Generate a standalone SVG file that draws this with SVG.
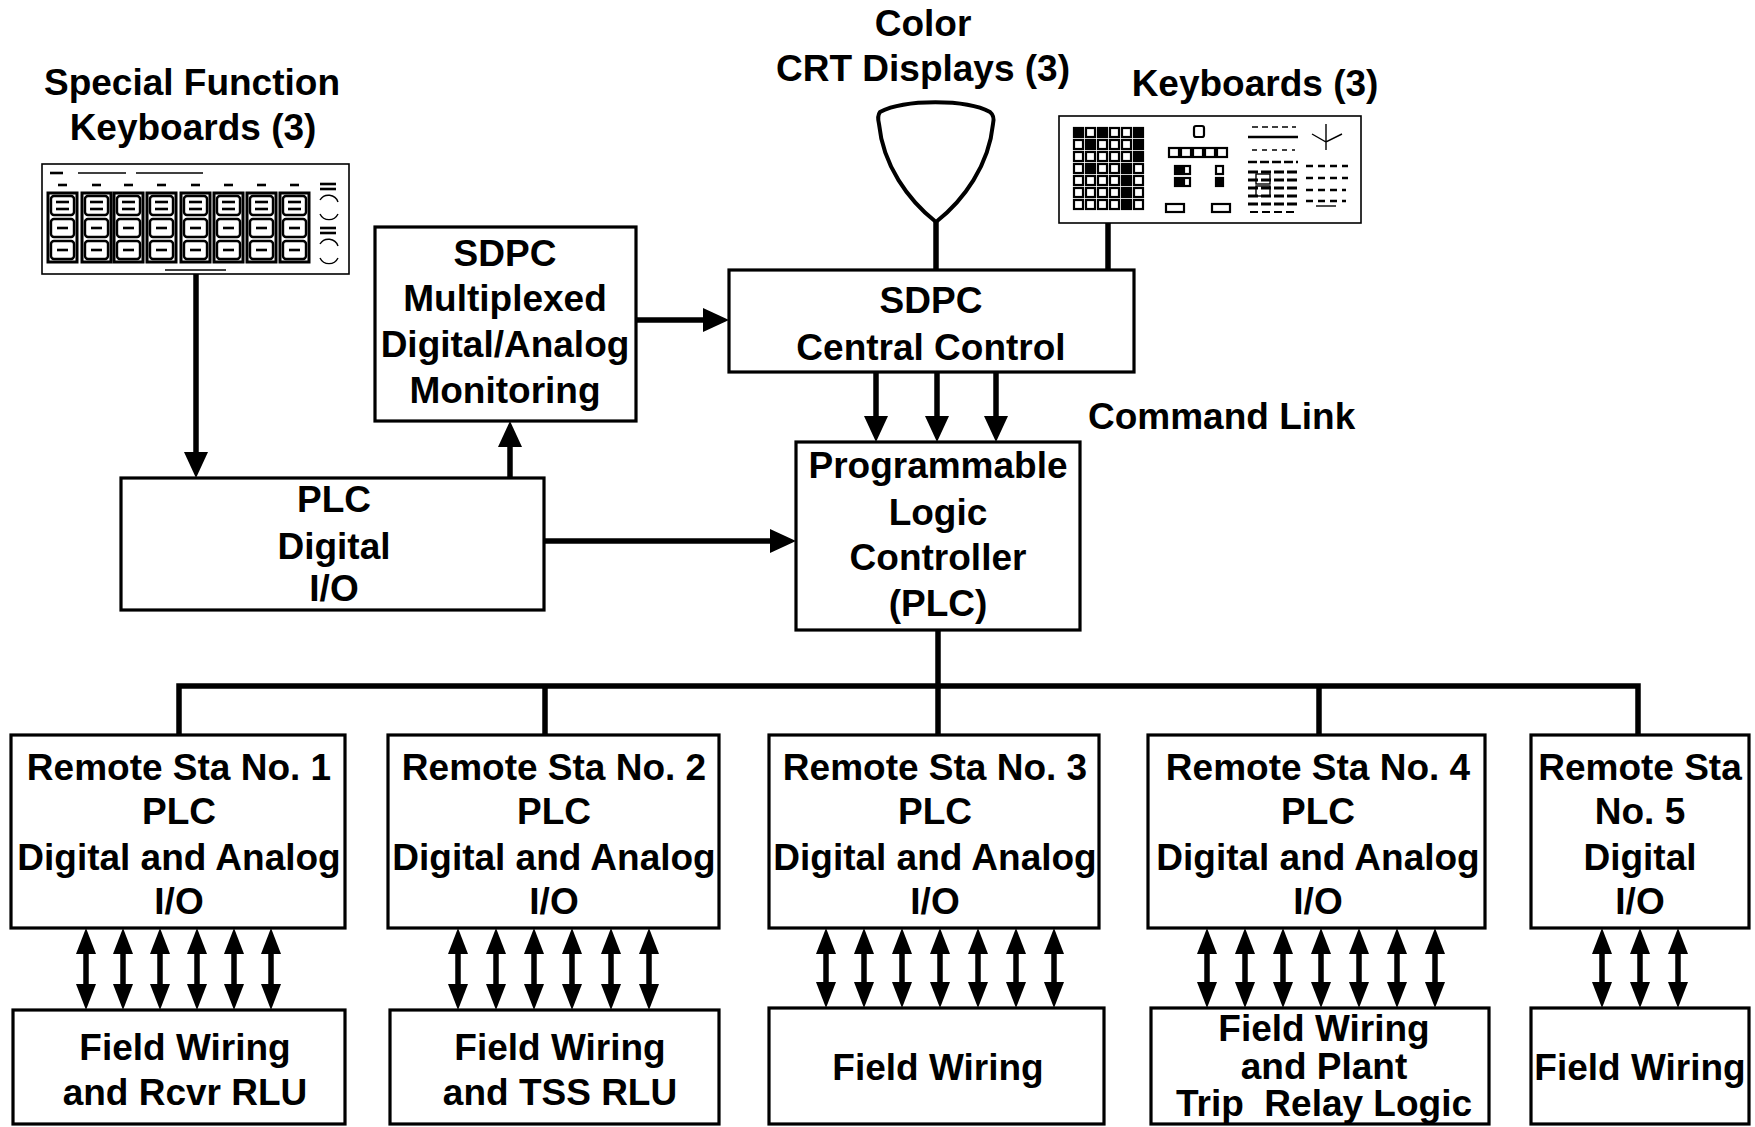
<svg xmlns="http://www.w3.org/2000/svg" width="1755" height="1127" viewBox="0 0 1755 1127">
  <style>
    .lbl { font-family: "Liberation Sans", Arial, Helvetica, sans-serif; font-weight: bold; font-size: 37px; fill: #000; text-anchor: middle; }
    .box { fill: #fff; stroke: #000; stroke-width: 3.2; }
    .wire { fill: none; stroke: #000; stroke-width: 5.5; }
    .frame { fill: #fff; stroke: #000; stroke-width: 1.6; }
    .col { fill: #fff; stroke: #000; stroke-width: 3; }
    .key { fill: #fff; stroke: #000; stroke-width: 2.4; }
    .mark { stroke: #000; stroke-width: 2.6; fill: none; }
    .fine { stroke: #000; stroke-width: 1.4; fill: none; }
    .k { fill: #fff; stroke: #000; stroke-width: 2.2; }
    .kf { fill: #000; stroke: #000; stroke-width: 2.2; }
  </style>
  <defs>
    <marker id="ah" viewBox="0 0 26 24" refX="13" refY="12" markerWidth="26" markerHeight="24" markerUnits="userSpaceOnUse" orient="auto-start-reverse">
      <path d="M0,0 L26,12 L0,24 Z" fill="#000"/>
    </marker>
    <marker id="ah2" viewBox="0 0 26 20" refX="13" refY="10" markerWidth="26" markerHeight="20" markerUnits="userSpaceOnUse" orient="auto-start-reverse">
      <path d="M0,0 L26,10 L0,20 Z" fill="#000"/>
    </marker>
    <!-- one column of the special function keypad -->
    <g id="sfcol">
      <rect class="col" x="0" y="193" width="29" height="69"/>
      <rect class="key" x="3" y="196" width="23" height="19" rx="3"/>
      <line class="mark" x1="8" y1="202" x2="21" y2="202"/>
      <line class="mark" x1="8" y1="209" x2="21" y2="209"/>
      <rect class="key" x="3" y="219" width="23" height="18" rx="3"/>
      <line class="mark" x1="9" y1="228" x2="20" y2="228"/>
      <rect class="key" x="3" y="241" width="23" height="18" rx="3"/>
      <line class="mark" x1="9" y1="250" x2="20" y2="250"/>
      <line class="mark" x1="10" y1="185" x2="19" y2="185"/>
    </g>
  </defs>

  <rect width="1755" height="1127" fill="#fff"/>

  <!-- free-standing labels -->
  <g id="labels">
    <text class="lbl" x="192" y="95">Special Function</text>
    <text class="lbl" x="193" y="140">Keyboards (3)</text>
    <text class="lbl" x="923" y="36">Color</text>
    <text class="lbl" x="923" y="81">CRT Displays (3)</text>
    <text class="lbl" x="1255" y="96">Keyboards (3)</text>
    <text class="lbl" x="1088" y="429" style="text-anchor:start">Command Link</text>
  </g>

  <!-- special function keyboard panel -->
  <g id="sf-keyboard">
    <rect class="frame" x="42" y="164" width="307" height="110"/>
    <line class="mark" x1="50" y1="173" x2="63" y2="173" stroke-width="4"/>
    <line class="fine" x1="78" y1="173" x2="126" y2="173"/>
    <line class="fine" x1="136" y1="173" x2="203" y2="173"/>
    <use href="#sfcol" x="48"/>
    <use href="#sfcol" x="82"/>
    <use href="#sfcol" x="114"/>
    <use href="#sfcol" x="147"/>
    <use href="#sfcol" x="181"/>
    <use href="#sfcol" x="214"/>
    <use href="#sfcol" x="247"/>
    <use href="#sfcol" x="280"/>
    <line class="mark" x1="320" y1="184" x2="336" y2="184"/>
    <line class="mark" x1="320" y1="189" x2="336" y2="189"/>
    <path class="fine" d="M320,200 A10,10 0 0 1 338,202 M338,214 A10,10 0 0 1 320,214"/>
    <line class="mark" x1="320" y1="228" x2="336" y2="228"/>
    <line class="mark" x1="320" y1="233" x2="336" y2="233"/>
    <path class="fine" d="M320,244 A10,10 0 0 1 338,246 M338,258 A10,10 0 0 1 320,258"/>
    <line class="fine" x1="165" y1="270" x2="226" y2="270"/>
  </g>

  <!-- CRT display -->
  <g id="crt">
    <path d="M880,112 C905,99 966,99 990,112 Q995,116 993,124 C989,165 964,200 936,222 C908,200 883,165 879,124 Q877,116 880,112 Z" fill="#fff" stroke="#000" stroke-width="4"/>
  </g>

  <!-- operator keyboard panel -->
  <g id="op-keyboard">
    <rect class="frame" x="1059" y="116" width="302" height="107"/>
    <!-- left key matrix -->
    <g>
      <rect class="kf" x="1074" y="128" width="9" height="9"/><rect class="k" x="1086" y="128" width="9" height="9"/><rect class="kf" x="1098" y="128" width="9" height="9"/><rect class="k" x="1110" y="128" width="9" height="9"/><rect class="k" x="1122" y="128" width="9" height="9"/><rect class="kf" x="1134" y="128" width="9" height="9"/>
      <rect class="k" x="1074" y="140" width="9" height="9"/><rect class="kf" x="1086" y="140" width="9" height="9"/><rect class="k" x="1098" y="140" width="9" height="9"/><rect class="k" x="1110" y="140" width="9" height="9"/><rect class="k" x="1122" y="140" width="9" height="9"/><rect class="kf" x="1134" y="140" width="9" height="9"/>
      <rect class="k" x="1074" y="152" width="9" height="9"/><rect class="k" x="1086" y="152" width="9" height="9"/><rect class="k" x="1098" y="152" width="9" height="9"/><rect class="k" x="1110" y="152" width="9" height="9"/><rect class="k" x="1122" y="152" width="9" height="9"/><rect class="kf" x="1134" y="152" width="9" height="9"/>
      <rect class="k" x="1074" y="164" width="9" height="9"/><rect class="kf" x="1086" y="164" width="9" height="9"/><rect class="k" x="1098" y="164" width="9" height="9"/><rect class="k" x="1110" y="164" width="9" height="9"/><rect class="kf" x="1122" y="164" width="9" height="9"/><rect class="k" x="1134" y="164" width="9" height="9"/>
      <rect class="k" x="1074" y="176" width="9" height="9"/><rect class="k" x="1086" y="176" width="9" height="9"/><rect class="k" x="1098" y="176" width="9" height="9"/><rect class="k" x="1110" y="176" width="9" height="9"/><rect class="kf" x="1122" y="176" width="9" height="9"/><rect class="k" x="1134" y="176" width="9" height="9"/>
      <rect class="k" x="1074" y="188" width="9" height="9"/><rect class="k" x="1086" y="188" width="9" height="9"/><rect class="k" x="1098" y="188" width="9" height="9"/><rect class="k" x="1110" y="188" width="9" height="9"/><rect class="kf" x="1122" y="188" width="9" height="9"/><rect class="k" x="1134" y="188" width="9" height="9"/>
      <rect class="k" x="1074" y="200" width="9" height="9"/><rect class="k" x="1086" y="200" width="9" height="9"/><rect class="k" x="1098" y="200" width="9" height="9"/><rect class="k" x="1110" y="200" width="9" height="9"/><rect class="kf" x="1122" y="200" width="9" height="9"/><rect class="k" x="1134" y="200" width="9" height="9"/>
    </g>
    <!-- centre keys -->
    <rect class="k" x="1194" y="126" width="10" height="11" rx="2"/>
    <rect class="k" x="1169" y="148" width="10" height="9"/><rect class="k" x="1181" y="148" width="10" height="9"/><rect class="k" x="1193" y="148" width="10" height="9"/><rect class="k" x="1205" y="148" width="10" height="9"/><rect class="k" x="1217" y="148" width="10" height="9"/>
    <rect class="kf" x="1175" y="166" width="7" height="8"/><rect class="k" x="1184" y="166" width="6" height="8"/>
    <rect class="kf" x="1175" y="178" width="7" height="8"/><rect class="k" x="1184" y="178" width="6" height="8"/>
    <rect class="k" x="1216" y="166" width="7" height="8"/><rect class="kf" x="1216" y="178" width="7" height="8"/>
    <rect class="k" x="1166" y="204" width="18" height="8"/>
    <rect class="k" x="1212" y="204" width="18" height="8"/>
    <!-- right-hand legend strips -->
    <g class="fine">
      <line x1="1252" y1="127" x2="1296" y2="127" stroke-dasharray="6 4"/>
      <line x1="1248" y1="137" x2="1298" y2="137" stroke-width="2.6"/>
      <line x1="1252" y1="150" x2="1295" y2="150" stroke-dasharray="5 5"/>
      <line x1="1248" y1="162" x2="1298" y2="162" stroke-width="2.6" stroke-dasharray="9 3"/>
      <line x1="1248" y1="172" x2="1298" y2="172" stroke-width="3" stroke-dasharray="10 3"/>
      <line x1="1248" y1="180" x2="1298" y2="180" stroke-width="3" stroke-dasharray="10 3"/>
      <line x1="1248" y1="188" x2="1298" y2="188" stroke-width="3" stroke-dasharray="10 3"/>
      <line x1="1248" y1="196" x2="1298" y2="196" stroke-width="3" stroke-dasharray="10 3"/>
      <line x1="1248" y1="204" x2="1298" y2="204" stroke-width="3" stroke-dasharray="10 3"/>
      <line x1="1250" y1="212" x2="1296" y2="212" stroke-width="2" stroke-dasharray="8 4"/>
      <rect x="1256" y="174" width="14" height="10"/>
      <rect x="1256" y="186" width="14" height="10"/>
      <path d="M1312,134 L1326,142 L1342,134 M1326,124 V150"/>
      <line x1="1306" y1="166" x2="1348" y2="166" stroke-width="2.4" stroke-dasharray="7 5"/>
      <line x1="1306" y1="178" x2="1348" y2="178" stroke-width="2.4" stroke-dasharray="7 5"/>
      <line x1="1306" y1="190" x2="1346" y2="190" stroke-width="2.4" stroke-dasharray="7 5"/>
      <line x1="1306" y1="201" x2="1346" y2="201" stroke-width="2.4" stroke-dasharray="7 5"/>
      <line x1="1316" y1="206" x2="1336" y2="206"/>
    </g>
  </g>

  <!-- processing blocks -->
  <g id="sdpc-mux">
    <rect class="box" x="375" y="227" width="261" height="194"/>
    <text class="lbl" x="505" y="266">SDPC</text>
    <text class="lbl" x="505" y="311">Multiplexed</text>
    <text class="lbl" x="505" y="357">Digital/Analog</text>
    <text class="lbl" x="505" y="403">Monitoring</text>
  </g>
  <g id="sdpc-central">
    <rect class="box" x="729" y="270" width="405" height="102"/>
    <text class="lbl" x="931" y="313">SDPC</text>
    <text class="lbl" x="931" y="360">Central Control</text>
  </g>
  <g id="plc-dio">
    <rect class="box" x="121" y="478" width="423" height="132"/>
    <text class="lbl" x="334" y="512">PLC</text>
    <text class="lbl" x="334" y="559">Digital</text>
    <text class="lbl" x="334" y="601">I/O</text>
  </g>
  <g id="plc">
    <rect class="box" x="796" y="442" width="284" height="188"/>
    <text class="lbl" x="938" y="478">Programmable</text>
    <text class="lbl" x="938" y="525">Logic</text>
    <text class="lbl" x="938" y="570">Controller</text>
    <text class="lbl" x="938" y="616">(PLC)</text>
  </g>

  <!-- remote stations -->
  <g id="rs1">
    <rect class="box" x="11" y="735" width="334" height="193"/>
    <text class="lbl" x="179" y="780">Remote Sta No. 1</text>
    <text class="lbl" x="179" y="824">PLC</text>
    <text class="lbl" x="179" y="870">Digital and Analog</text>
    <text class="lbl" x="179" y="914">I/O</text>
  </g>
  <g id="rs2">
    <rect class="box" x="388" y="735" width="331" height="193"/>
    <text class="lbl" x="554" y="780">Remote Sta No. 2</text>
    <text class="lbl" x="554" y="824">PLC</text>
    <text class="lbl" x="554" y="870">Digital and Analog</text>
    <text class="lbl" x="554" y="914">I/O</text>
  </g>
  <g id="rs3">
    <rect class="box" x="769" y="735" width="330" height="193"/>
    <text class="lbl" x="935" y="780">Remote Sta No. 3</text>
    <text class="lbl" x="935" y="824">PLC</text>
    <text class="lbl" x="935" y="870">Digital and Analog</text>
    <text class="lbl" x="935" y="914">I/O</text>
  </g>
  <g id="rs4">
    <rect class="box" x="1148" y="735" width="337" height="193"/>
    <text class="lbl" x="1318" y="780">Remote Sta No. 4</text>
    <text class="lbl" x="1318" y="824">PLC</text>
    <text class="lbl" x="1318" y="870">Digital and Analog</text>
    <text class="lbl" x="1318" y="914">I/O</text>
  </g>
  <g id="rs5">
    <rect class="box" x="1531" y="735" width="218" height="193"/>
    <text class="lbl" x="1640" y="780">Remote Sta</text>
    <text class="lbl" x="1640" y="824">No. 5</text>
    <text class="lbl" x="1640" y="870">Digital</text>
    <text class="lbl" x="1640" y="914">I/O</text>
  </g>

  <!-- field wiring -->
  <g id="fw1">
    <rect class="box" x="13" y="1010" width="332" height="114"/>
    <text class="lbl" x="185" y="1060">Field Wiring</text>
    <text class="lbl" x="185" y="1105">and Rcvr RLU</text>
  </g>
  <g id="fw2">
    <rect class="box" x="390" y="1010" width="329" height="114"/>
    <text class="lbl" x="560" y="1060">Field Wiring</text>
    <text class="lbl" x="560" y="1105">and TSS RLU</text>
  </g>
  <g id="fw3">
    <rect class="box" x="769" y="1008" width="335" height="116"/>
    <text class="lbl" x="938" y="1080">Field Wiring</text>
  </g>
  <g id="fw4">
    <rect class="box" x="1151" y="1008" width="338" height="116"/>
    <text class="lbl" x="1324" y="1041">Field Wiring</text>
    <text class="lbl" x="1324" y="1079">and Plant</text>
    <text class="lbl" x="1324" y="1116" style="white-space:pre">Trip  Relay Logic</text>
  </g>
  <g id="fw5">
    <rect class="box" x="1531" y="1008" width="218" height="116"/>
    <text class="lbl" x="1640" y="1080">Field Wiring</text>
  </g>

  <!-- connectors -->
  <g id="connectors">
    <path class="wire" d="M196,274 V465" marker-end="url(#ah)"/>
    <path class="wire" d="M510,478 V434" marker-end="url(#ah)"/>
    <path class="wire" d="M636,320 H716" marker-end="url(#ah)"/>
    <path class="wire" d="M544,541 H783" marker-end="url(#ah)"/>
    <path class="wire" d="M876,372 V429" marker-end="url(#ah)"/>
    <path class="wire" d="M937,372 V429" marker-end="url(#ah)"/>
    <path class="wire" d="M996,372 V429" marker-end="url(#ah)"/>
    <path class="wire" d="M936,222 V270" stroke-width="6"/>
    <path class="wire" d="M1108,223 V270" stroke-width="6"/>
    <!-- remote station bus -->
    <path class="wire" d="M938,630 V686"/>
    <path class="wire" d="M179,735 V686 H1638 V735" stroke-linejoin="miter"/>
    <path class="wire" d="M545,686 V735"/>
    <path class="wire" d="M938,686 V735"/>
    <path class="wire" d="M1319,686 V735"/>
    <!-- station to field wiring links -->
    <g marker-start="url(#ah2)" marker-end="url(#ah2)">
      <path class="wire" d="M86,941 V997"/>
      <path class="wire" d="M123,941 V997"/>
      <path class="wire" d="M160,941 V997"/>
      <path class="wire" d="M197,941 V997"/>
      <path class="wire" d="M234,941 V997"/>
      <path class="wire" d="M271,941 V997"/>

      <path class="wire" d="M458,941 V997"/>
      <path class="wire" d="M496,941 V997"/>
      <path class="wire" d="M534,941 V997"/>
      <path class="wire" d="M572,941 V997"/>
      <path class="wire" d="M611,941 V997"/>
      <path class="wire" d="M649,941 V997"/>

      <path class="wire" d="M826,941 V995"/>
      <path class="wire" d="M864,941 V995"/>
      <path class="wire" d="M902,941 V995"/>
      <path class="wire" d="M940,941 V995"/>
      <path class="wire" d="M978,941 V995"/>
      <path class="wire" d="M1016,941 V995"/>
      <path class="wire" d="M1054,941 V995"/>

      <path class="wire" d="M1207,941 V995"/>
      <path class="wire" d="M1245,941 V995"/>
      <path class="wire" d="M1283,941 V995"/>
      <path class="wire" d="M1321,941 V995"/>
      <path class="wire" d="M1359,941 V995"/>
      <path class="wire" d="M1397,941 V995"/>
      <path class="wire" d="M1435,941 V995"/>

      <path class="wire" d="M1602,941 V995"/>
      <path class="wire" d="M1640,941 V995"/>
      <path class="wire" d="M1678,941 V995"/>
    </g>
  </g>
</svg>
